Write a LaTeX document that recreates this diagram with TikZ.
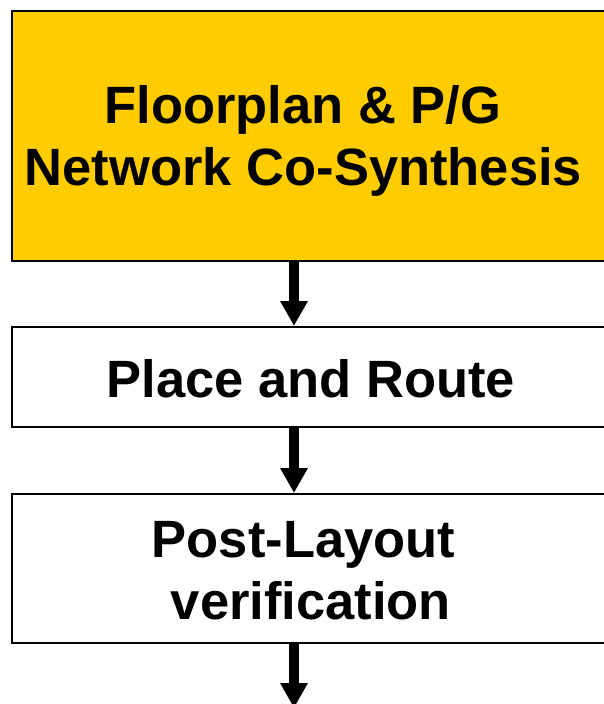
\documentclass[tikz,border=0pt]{standalone}
\usepackage{fontspec}
\setmainfont{Liberation Sans}
\usetikzlibrary{arrows.meta}
\definecolor{stagegold}{HTML}{FFCC00}
\begin{document}
\begin{tikzpicture}[x=1pt,y=-1pt,
  stagebox/.style={draw=black, line width=2pt, inner sep=0pt,
    minimum width=610pt, anchor=north west},
  stagetext/.style={font=\bfseries\fontsize{52.5}{62}\selectfont,
    anchor=base, inner sep=0pt},
  flowarrow/.style={line width=10pt, -{Triangle[width=26pt,length=25pt]}}]
\useasboundingbox (0,0) rectangle (603,704);

% stage boxes
\node[stagebox, fill=stagegold, minimum height=250pt] (fp) at (11,10) {};
\node[stagebox, fill=white, minimum height=100pt] (pr) at (11,326) {};
\node[stagebox, fill=white, minimum height=149pt] (pv) at (11,493) {};

% stage labels
\node[stagetext] (fpa) at (303,123) {Floorplan \& P/G};
\node[stagetext] (fpb) at (303.5,185) {Network Co-Synthesis};
\node[stagetext] (prt) at (311,397) {Place and Route};
\node[stagetext] (pva) at (303.5,557) {Post-Layout};
\node[stagetext] (pvb) at (311,619) {verification};

% flow arrows
\coordinate (ax) at (294,0);
\coordinate (outlet) at (294,708);
\draw[flowarrow] (fp.south -| ax) -- (pr.north -| ax);
\draw[flowarrow] (pr.south -| ax) -- (pv.north -| ax);
\draw[flowarrow] (pv.south -| ax) -- (outlet);
\end{tikzpicture}
\end{document}
